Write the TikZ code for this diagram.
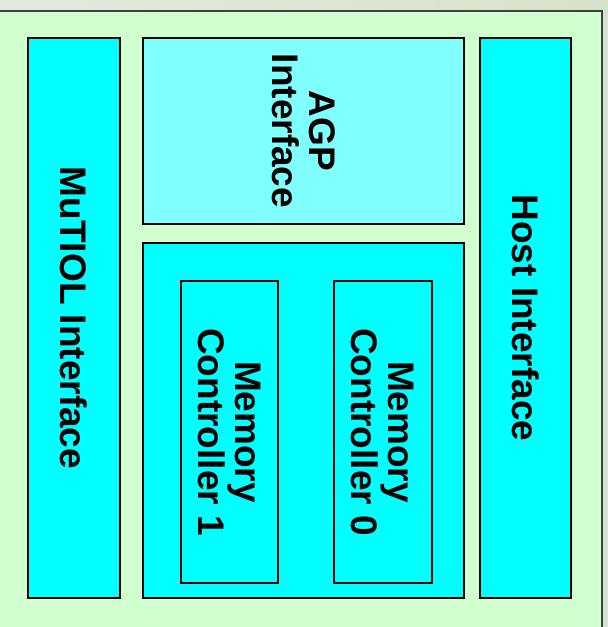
\documentclass[tikz,border=0pt]{standalone}
\usepackage{fontspec}
\setmainfont{Liberation Sans}
\usetikzlibrary{positioning}

\definecolor{panelgreen}{RGB}{208,255,208}
\definecolor{outergray}{RGB}{214,226,204}
\definecolor{framegray}{RGB}{64,64,64}
\definecolor{boxcyan}{RGB}{0,255,255}
\definecolor{agpcyan}{RGB}{128,255,255}

\tikzset{
  block/.style={draw=black, line width=1.5pt, fill=boxcyan, inner sep=0pt,
    align=center, font=\bfseries\fontsize{37}{37}\selectfont},
  inblock/.style={block, line width=1.2pt},
}

\begin{document}
\begin{tikzpicture}[x=1pt,y=-1pt]
\useasboundingbox (0,0) rectangle (608,627);
\clip (0,0) rectangle (608,627);

% background and frame
\shade[left color=outergray!70!white, right color=outergray] (0,0) rectangle (608,627);
\fill[panelgreen] (-5,11) rectangle (602,640);
\draw[framegray, line width=2pt] (-5,11) -| (602,640);

% side interfaces
\path
(74,318)    node[block, rotate=-90, minimum width=560pt, minimum height=92pt] (mutiol) {MuTIOL Interface}
(525.5,318) node[block, rotate=-90, minimum width=560pt, minimum height=91pt] (host) {Host Interface}
;

% AGP interface
\path
(303.5,131) node[block, fill=agpcyan, rotate=-90, minimum width=186pt, minimum height=321pt] (agp) {AGP\\Interface};

% memory block with the two controllers
\path
(303.5,420.5) node[block, minimum width=321pt, minimum height=355pt] (memory) {}
(229.5,432)   node[inblock, rotate=-90, minimum width=302pt, minimum height=97pt] (mc1) {Memory\\Controller 1}
(383,432)     node[inblock, rotate=-90, minimum width=302pt, minimum height=98pt] (mc0) {Memory\\Controller 0}
;

\end{tikzpicture}
\end{document}
